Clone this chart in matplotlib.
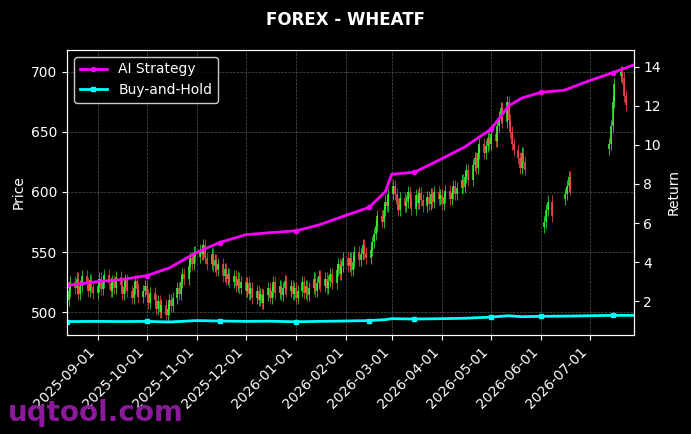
import matplotlib
matplotlib.use("Agg")
import matplotlib.pyplot as plt
import matplotlib.dates as mdates
import pandas as pd
import numpy as np

N = None
closes = (
 [510,518,525,520,528,515,522,530,524,518,527,521,516] +
 [522,528,519,525,531,524,518,526,520,529,523,515,521,527,518,512,520,526,519,513,518,522] +
 [514,508,516,510,503,509,500,506,498,503,510,505,512,520,515,525,532,528,538,545,540,550,546] +
 [552,548,556,545,540,548,538,543,535,540,530,536,528,532,525,530,522,528,520,525] +
 [518,524,515,520,512,518,510,515,508,514,520,512,518,525,516,522,514,520,526,518,522,515,520] +
 [512,518,525,516,522,514,520,528,518,524,530,522,528,520,526,532,524,535,540,532,538,545] +
 [538,545,535,542,550,543,548,556,549,545,552,558,565,572,580,575,585,592,588,598] +
 [605,598,590,585,595,588,592,600,594,586,597,591,599,593,588,596,590,598,592,600,594,597] +
 [590,596,601,594,599,605,598,603,610,604,612,618,610,622,628,620,632,640,632,638,645,640] +
 [648,642,655,662,670,658,675,660,650,640,635,628,620,632,625,618,N,N,N,N,N] +
 [N,N,575,585,592,580,N,N,N,N,N,598,605,612,602,N,N,N,N,N,N,N] +
 [N,N,N,N,N,N,N,N,640,655,675,690,N,700,695,680,672,N,N,N]
)
dates = pd.bdate_range("2025-08-13", periods=len(closes))

strat_dates = pd.to_datetime(["2025-08-13","2025-09-01","2025-09-15","2025-10-01","2025-10-15","2025-11-01","2025-11-15",
  "2025-12-01","2025-12-15","2026-01-01","2026-01-15","2026-02-01","2026-02-15","2026-02-25","2026-03-01","2026-03-15",
  "2026-04-01","2026-04-15","2026-05-01","2026-05-12","2026-05-20","2026-06-01","2026-06-15","2026-07-01","2026-07-15","2026-07-28"])
strat_vals = [2.8,3.0,3.1,3.3,3.7,4.5,5.0,5.4,5.5,5.6,5.9,6.4,6.8,7.6,8.5,8.6,9.3,9.9,10.8,12.0,12.4,12.7,12.8,13.3,13.7,14.1]
bh_vals = [0.95,0.96,0.95,0.96,0.93,1.0,0.98,0.96,0.97,0.94,0.96,0.98,1.0,1.05,1.1,1.08,1.1,1.12,1.18,1.25,1.2,1.22,1.23,1.25,1.27,1.27]

fig = plt.figure(figsize=(6.91,4.34), dpi=100, facecolor="black")
ax = fig.add_axes([0.097,0.228,0.820,0.657])
ax.set_facecolor("black")
prev = None
for d, c in zip(dates, closes):
    if c is None:
        prev = None
        continue
    o = prev if prev is not None else c - 4
    col = "#33ff33" if c >= o else "#ff4d4d"
    hi = max(o, c) + 5; lo = min(o, c) - 5
    ax.vlines(d, lo, hi, color=col, linewidth=0.5)
    ax.vlines(d, min(o,c), max(o,c), color=col, linewidth=1.1)
    prev = c
ax.set_ylim(481, 718)
ax.set_xlim(pd.Timestamp("2025-08-13"), pd.Timestamp("2026-07-28"))
ax.set_ylabel("Price", color="white")
ax.grid(True, color="#555555", linestyle="--", linewidth=0.5)
ax.xaxis.set_major_locator(mdates.MonthLocator())
ax.xaxis.set_major_formatter(mdates.DateFormatter("%Y-%m-%d"))
plt.setp(ax.get_xticklabels(), rotation=45, ha="right")
ax.tick_params(colors="white")
for s in ax.spines.values(): s.set_color("white")

ax2 = ax.twinx()
l1, = ax2.plot(strat_dates, strat_vals, color="#ff00ff", lw=2, marker="o", ms=3, markevery=3, label="AI Strategy")
l2, = ax2.plot(strat_dates, bh_vals, color="cyan", lw=2, marker="s", ms=3, markevery=3, label="Buy-and-Hold")
ax2.set_ylim(0.26, 14.87)
ax2.set_yticks([2,4,6,8,10,12,14])
ax2.set_ylabel("Return", color="white")
ax2.tick_params(colors="white")
for s in ax2.spines.values(): s.set_color("white")
leg = ax2.legend(loc="upper left", facecolor="black", edgecolor="white", labelcolor="white")
fig.suptitle("FOREX - WHEATF", color="white", fontweight="bold", y=0.975)
fig.text(0.012, 0.03, "uqtool.com", color="#8b1a9b", fontsize=20, fontweight="bold")
fig.savefig("out.png", facecolor="black")
